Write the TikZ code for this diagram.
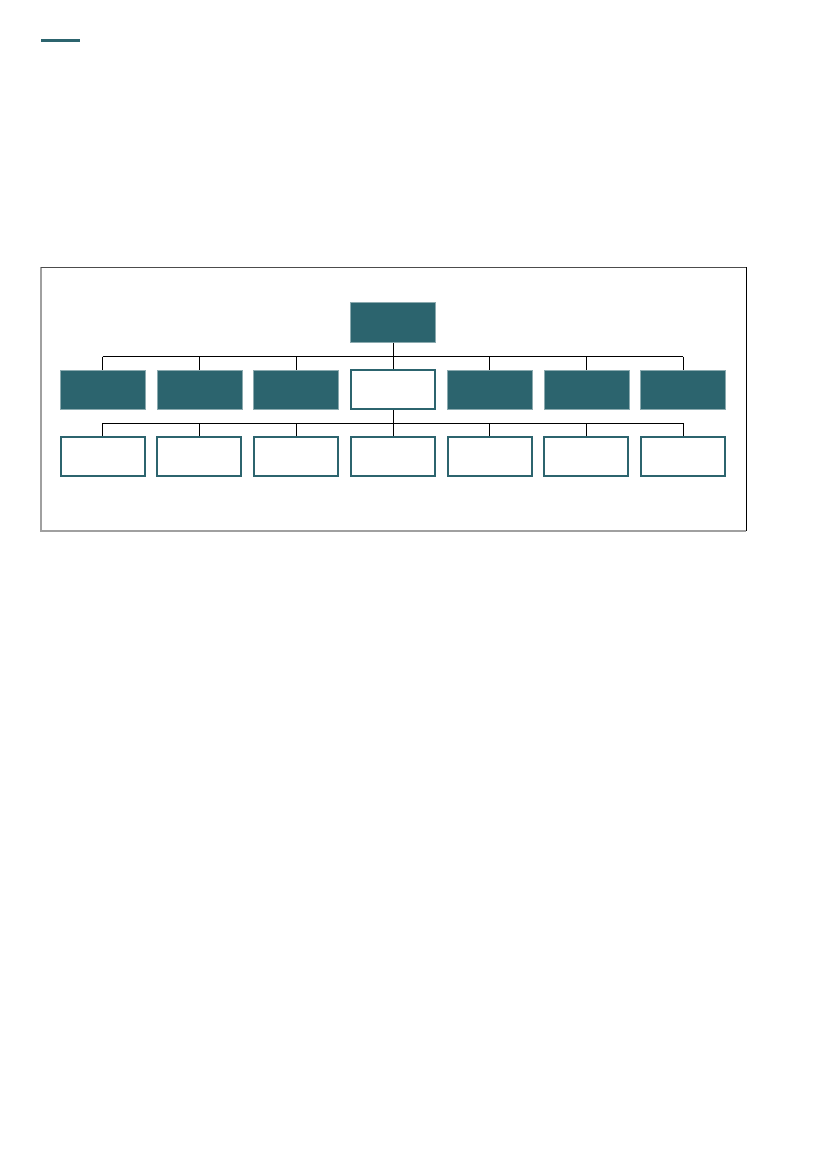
\documentclass[tikz,border=0pt]{standalone}
\usepackage{tikz}
\usetikzlibrary{positioning,calc}
\definecolor{boxteal}{HTML}{2C646E}
\definecolor{framegray}{HTML}{A0A0A0}

\begin{document}
\begin{tikzpicture}[x=1pt,y=-1pt,
		filledbox/.style={rectangle, fill=boxteal, draw=boxteal!55, line width=0.6pt, minimum width=85pt, minimum height=39.5pt, inner sep=0pt},
		openbox/.style={rectangle, fill=white, draw=boxteal, line width=2pt, minimum width=84pt, minimum height=39pt, inner sep=0pt},
		link/.style={draw=black, line width=1pt}]
		%% page size, so the margins stay as in the original
		\useasboundingbox (0,0) rectangle (827,1169);
		%% small bar in the upper left corner
		\draw[boxteal, line width=3pt] (41,40.7) -- (80,40.7);
		%% the frame round the chart
		\draw[framegray, line width=1.2pt] (746,531) -- (41,531) -- (41,267);
		\draw[black!70, line width=1pt] (41,267) -- (746,267);
		\draw[black, line width=1pt] (746,267) -- (746,531);
		%% top of the tree
		\node[filledbox] (root) at (393,322.5) {};
		%% first and second row, seven boxes each
		\foreach \i/\x in {1/102.7, 2/199.3, 3/296.2, 4/393, 5/489.5, 6/586.3, 7/683.2}{
			\node[openbox] (low-\i) at (\x,456.8) {};
		}
		\foreach \i/\x in {1/102.7, 2/199.3, 3/296.2, 5/489.5, 6/586.3, 7/683.2}{
			\node[filledbox] (mid-\i) at (\x,389.8) {};
		}
		\node[openbox] (mid-4) at (393,389.8) {};
		%% the two horizontal busses
		\coordinate (busA) at (0,356.7);
		\coordinate (busB) at (0,423.3);
		\draw[link] (root.south) -- (root.south |- busA);
		\draw[link] (mid-1.north |- busA) -- (mid-7.north |- busA);
		\draw[link] (mid-4.south) -- (mid-4.south |- busB);
		\draw[link] (low-1.north |- busB) -- (low-7.north |- busB);
		\foreach \i in {1,...,7}{
			\draw[link] (mid-\i.north |- busA) -- (mid-\i.north);
			\draw[link] (low-\i.north |- busB) -- (low-\i.north);
		}
	\end{tikzpicture}
\end{document}
